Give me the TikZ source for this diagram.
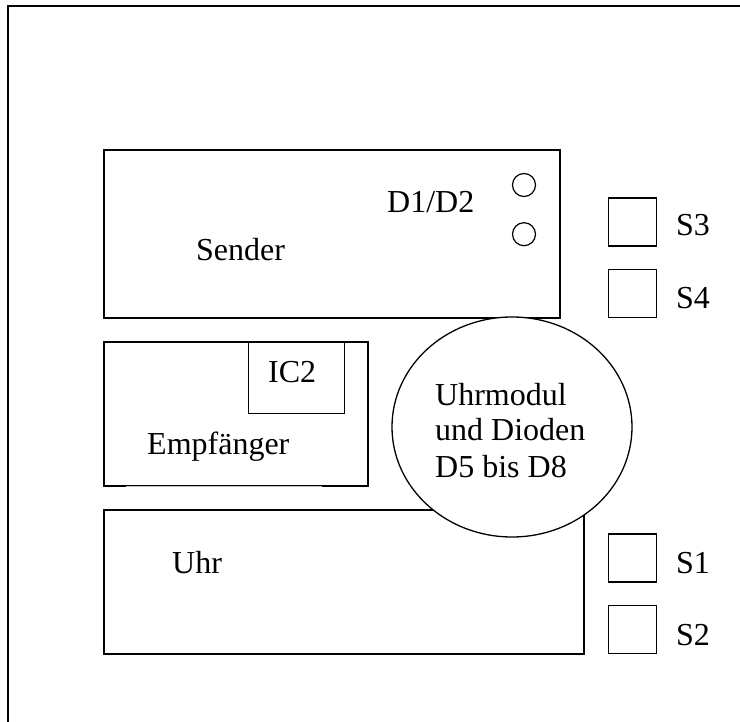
\documentclass[tikz,border=0pt]{standalone}
\usepackage{fontspec}
\setmainfont{Liberation Serif}
\usetikzlibrary{shapes.geometric, positioning}
\tikzset{
  board/.style={rectangle, draw, line width=1.3pt, inner sep=0pt},
  taster/.style={rectangle, draw, line width=1.3pt, minimum width=48pt,
                 minimum height=48pt, inner sep=0pt},
  led/.style={circle, draw, line width=1.2pt, minimum size=23pt, inner sep=0pt},
  lbl/.style={font=\fontsize{32}{36}\selectfont, inner sep=0pt, anchor=base west}
}

\begin{document}
\begin{tikzpicture}[x=1pt, y=-1pt]
    \useasboundingbox (0,0) rectangle (740,722);
    \draw[line width=2pt] (8,722) -- (8,6) -- (740,6);

    \node[board, minimum width=456pt, minimum height=168pt] (sender) at (332,234) {};
    \node[board, minimum width=264pt, minimum height=144pt] (empf) at (236,414) {};
    \node[board, minimum width=96pt, minimum height=71pt, anchor=north west] (ic) at (248,342) {};
    \node[board, minimum width=480pt, minimum height=144pt] (uhr) at (344,582) {};

    % unterer Rand vom Empfaenger nur angedeutet
    \draw[white, line width=2pt] ([xshift=23pt]empf.south west) -- ([xshift=-47pt]empf.south east);
    \draw[gray!50, line width=0.6pt] ([xshift=23pt]empf.south west) -- ([xshift=-47pt]empf.south east);

    \node[led] (d1) at (524,185) {};
    \node[led, below=25pt of d1] (d2) {};

    \node[taster] (s3) at (632.5,222) {};
    \node[taster] (s4) at (632.5,293.5) {};
    \node[taster] (s1) at (632.5,558) {};
    \node[taster] (s2) at (632.5,629.5) {};

    \node[ellipse, draw, fill=white, line width=1.3pt, minimum width=240pt,
          minimum height=220pt, inner sep=0pt] (modul) at (512,427) {};

    \node[lbl] (tsender) at (196,261) {Sender};
    \node[lbl] (tdiode) at (387,213) {D1/D2};
    \node[lbl] (tic) at (268,383) {IC2};
    \node[lbl] (tempf) at (147,454) {Empfänger};
    \node[lbl] (tuhr) at (172,573) {Uhr};
    \node[lbl, align=left] (tmodul) at (435,477) {Uhrmodul\\und Dioden\\D5 bis D8};
    \node[lbl] (ts3) at (676,236) {S3};
    \node[lbl] (ts4) at (676,309) {S4};
    \node[lbl] (ts1) at (676,573) {S1};
    \node[lbl] (ts2) at (676,645) {S2};
\end{tikzpicture}
\end{document}
